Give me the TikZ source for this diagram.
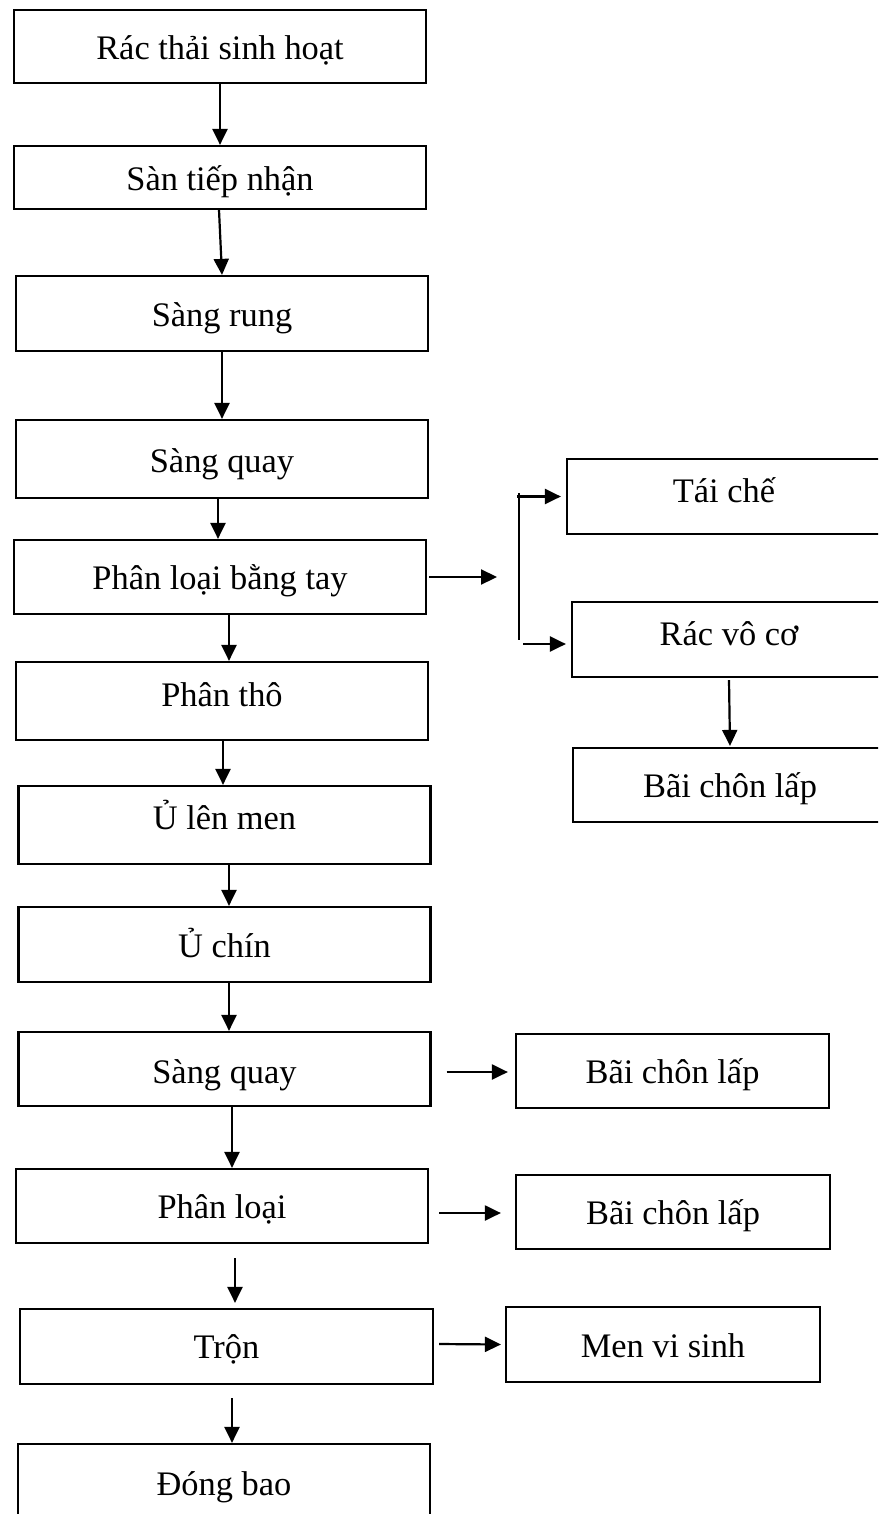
\documentclass[tikz,border=0pt]{standalone}
\usepackage{fontspec}
\setmainfont{Liberation Serif}
\usetikzlibrary{arrows.meta}
\begin{document}
\begin{tikzpicture}[x=1pt,y=-1pt,
  box/.style={draw, line width=2.2pt, inner sep=0pt, minimum width=412pt,
    text height=26pt, text depth=0pt, font=\fontsize{34.4}{40}\selectfont, anchor=center},
  rbox/.style={box, minimum width=314pt},
  arr/.style={line width=2.2pt, -{Triangle[length=16pt,width=15pt]}},
  branchline/.style={line width=1.4pt}]
\useasboundingbox (0,0) rectangle (878,1514);
\clip (0,0) rectangle (878,1514);
% main column
\node[box, minimum height=73pt] (b1) at (220,46.5) {Rác thải sinh hoạt};
\node[box, minimum height=63pt] (b2) at (220,177.5) {Sàn tiếp nhận};
\node[box, minimum height=75pt] (b3) at (222,313.5) {Sàng rung};
\node[box, minimum height=78pt] (b4) at (222,459) {Sàng quay};
\node[box, minimum height=74pt, text height=24pt] (b5) at (220,577) {Phân loại bằng tay};
\node[box, minimum height=78pt, text height=11pt] (b6) at (222,701) {Phân thô};
\node[box, minimum height=78pt, text height=8pt] (b7) at (224.5,825) {Ủ lên men};
\node[box, minimum height=75pt, text height=25pt] (b8) at (224.5,944.5) {Ủ chín};
\node[box, minimum height=74pt, text height=28pt] (b9) at (224.5,1069) {Sàng quay};
\node[box, minimum height=74pt, text height=24pt] (b10) at (222,1206) {Phân loại};
\node[box, minimum height=75pt, minimum width=413pt, text height=24pt] (b11) at (226.5,1346.5) {Trộn};
\node[box, minimum height=75pt, text height=27pt] (b12) at (224,1481.5) {Đóng bao};
% right column
\node[rbox, minimum height=75pt, text height=12pt] (r1) at (724,496.5) {Tái chế};
\node[rbox, minimum height=75pt, text height=12pt] (r2) at (729,639.5) {Rác vô cơ};
\node[rbox, minimum height=74pt, text height=24pt] (r3) at (730,785) {Bãi chôn lấp};
\node[rbox, minimum height=74pt, minimum width=313pt, text height=25pt] (r4) at (672.5,1071) {Bãi chôn lấp};
\node[rbox, minimum height=74pt, text height=25pt] (r5) at (673,1212) {Bãi chôn lấp};
\node[rbox, minimum height=75pt, text height=26pt] (r6) at (663,1344.5) {Men vi sinh};
% main flow arrows
\draw[arr] (b1.south) -- (b2.north);
\draw[arr] ([xshift=-1pt]b2.south) -- (b3.north);
\draw[arr] (b3.south) -- (b4.north);
\draw[arr] ([xshift=-4pt]b4.south) -- ([xshift=-2pt]b5.north);
\draw[arr] ([xshift=9pt]b5.south) -- ([xshift=7pt]b6.north);
\draw[arr] ([xshift=1pt]b6.south) -- ([xshift=-1.5pt]b7.north);
\draw[arr] ([xshift=4.5pt]b7.south) -- ([xshift=4.5pt]b8.north);
\draw[arr] ([xshift=4.5pt]b8.south) -- ([xshift=4.5pt]b9.north);
\draw[arr] ([xshift=7.5pt]b9.south) -- ([xshift=10pt]b10.north);
\draw[arr] ([xshift=13pt,yshift=-14pt]b10.south) -- ([xshift=8.5pt,yshift=5pt]b11.north);
\draw[arr] ([xshift=5.5pt,yshift=-13pt]b11.south) -- ([xshift=8pt]b12.north);
% branch from manual sorting
\coordinate (bp) at (497,577);
\draw[arr] ([xshift=2pt]b5.east) -- (bp);
\coordinate (jt) at (519,493);
\coordinate (jb) at (519,640);
\draw[branchline] (jt) -- (jb);
\coordinate (ta) at (517,496.5);
\coordinate (tb) at (523,644);
\draw[arr] (ta) -- ([xshift=-5pt]r1.west);
\draw[arr] (tb) -- ([xshift=-5pt,yshift=-4.5pt]r2.west);
\draw[arr] ([yshift=-2pt]r2.south) -- ([yshift=1pt]r3.north);
% side outputs
\draw[arr] ([xshift=15pt,yshift=-3pt]b9.east) -- ([xshift=-7pt,yshift=-1pt]r4.west);
\draw[arr] ([xshift=10pt,yshift=-7pt]b10.east) -- ([xshift=-14pt,yshift=-1pt]r5.west);
\draw[arr] ([xshift=5pt,yshift=2.5pt]b11.east) -- ([xshift=-4pt]r6.west);
\end{tikzpicture}
\end{document}
